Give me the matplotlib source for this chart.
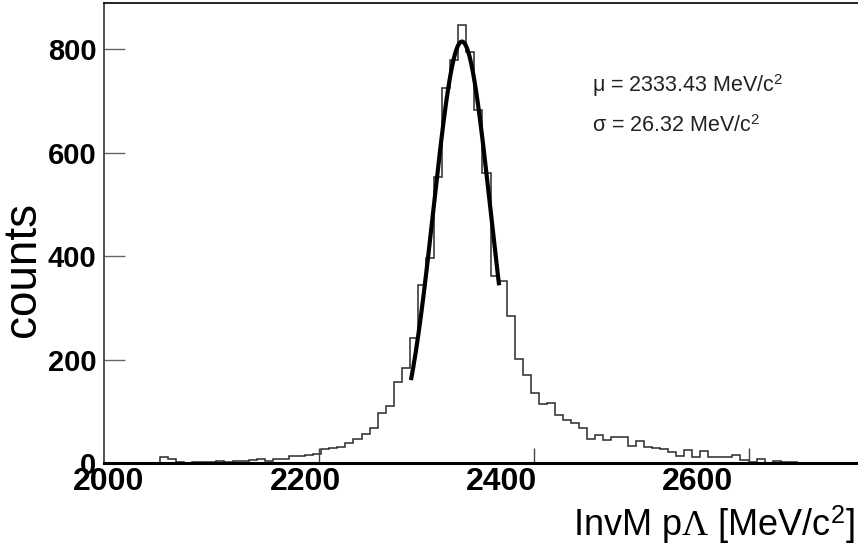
import numpy as np
import matplotlib
matplotlib.use("Agg")
import matplotlib.pyplot as plt

# histogram contents, 7.5 MeV bins starting at 2052.5 MeV
bin_start = 2052.5
bin_width = 7.5
counts = [12, 8, 3, 1, 2, 2, 2, 5, 3, 4,
          4, 6, 8, 5, 8, 9, 14, 14, 16, 18,
          28, 29, 32, 40, 47, 56, 68, 98, 110, 158,
          185, 243, 344, 397, 553, 725, 779, 847, 794, 683,
          561, 361, 353, 285, 201, 171, 135, 115, 117, 94,
          84, 77, 68, 46, 55, 45, 50, 51, 34, 44,
          32, 29, 27, 21, 15, 26, 13, 24, 12, 13,
          13, 17, 6, 2, 8, 1, 5, 3, 3]

# gaussian fit of the peak
fit_mu = 2333.43
fit_sigma = 26.32
fit_amp = 815
fit_lo, fit_hi = 2286, 2368

y_ticks = [0, 200, 400, 600, 800]
x_ticks = [2200, 2400, 2600]
x_labels = [2000, 2200, 2400, 2600]

plt.rcParams['font.family'] = ['Liberation Sans', 'DejaVu Sans']
plt.rcParams['mathtext.fontset'] = 'custom'
plt.rcParams['mathtext.rm'] = 'Liberation Serif'
plt.rcParams['mathtext.it'] = 'Liberation Serif:italic'
plt.rcParams['mathtext.bf'] = 'Liberation Serif:bold'
plt.rcParams['mathtext.sf'] = 'Liberation Sans'

fig = plt.figure(figsize=(8.58, 5.5), dpi=100)
ax = fig.add_axes([103.5 / 858, (550 - 463.3) / 550, 754.65 / 858, 460.3 / 550])

edges = bin_start + bin_width * np.arange(len(counts) + 1)
ax.stairs(counts, edges, color='#2a2a2a', lw=1.1)

xf = np.linspace(fit_lo, fit_hi, 300)
yf = fit_amp * np.exp(-0.5 * ((xf - fit_mu) / fit_sigma) ** 2)
ax.plot(xf, yf, color='black', lw=3.0, solid_capstyle='butt')

ax.set_xlim(2000, 2702)
ax.set_ylim(0, 889.5)

# tick marks on the real scale, ROOT style (inside)
ax.set_xticks(x_ticks)
ax.tick_params(axis='x', direction='in', length=11, width=1.0, color='#444444',
               labelbottom=False)
ax.set_yticks(y_ticks, labels=[str(v) for v in y_ticks], fontsize=21, fontweight='bold')
ax.tick_params(axis='y', direction='in', length=15, width=1.0, color='#666666', pad=5)

ax.spines['right'].set_visible(False)
ax.spines['top'].set_linewidth(1.2)
ax.spines['left'].set_linewidth(1.2)
ax.spines['left'].set_color('#333333')
ax.spines['bottom'].set_linewidth(2.2)

# x tick labels, pasted slightly off the tick marks as in the original
ax2 = ax.twiny()
ax2.set_xlim(1994.4, 2764.4)
ax2.set_xticks(x_labels, labels=[str(v) for v in x_labels], fontsize=23, fontweight='bold')
ax2.xaxis.set_ticks_position('bottom')
ax2.tick_params(axis='x', length=0, pad=3, labelbottom=True, labeltop=False)
for s in ax2.spines.values():
    s.set_visible(False)

ax.set_xlabel('InvM p$\\Lambda$ [MeV/c$^{\\mathsf{2}}$]', fontsize=26, ha='right')
ax.xaxis.set_label_coords(0.9958, -0.088)
ax.set_ylabel('counts', fontsize=33)
ax.yaxis.set_label_coords(-0.0775, 0.42)

ax.text(0.6467, 0.8197, f'\u03bc = {fit_mu:.2f} MeV/c$^{{\\mathsf{{2}}}}$',
        transform=ax.transAxes, fontsize=15.5, va='center', color='#222222')
ax.text(0.6467, 0.733, f'\u03c3 = {fit_sigma:.2f} MeV/c$^{{\\mathsf{{2}}}}$',
        transform=ax.transAxes, fontsize=15.5, va='center', color='#222222')

fig.savefig('out.png', dpi=100)
